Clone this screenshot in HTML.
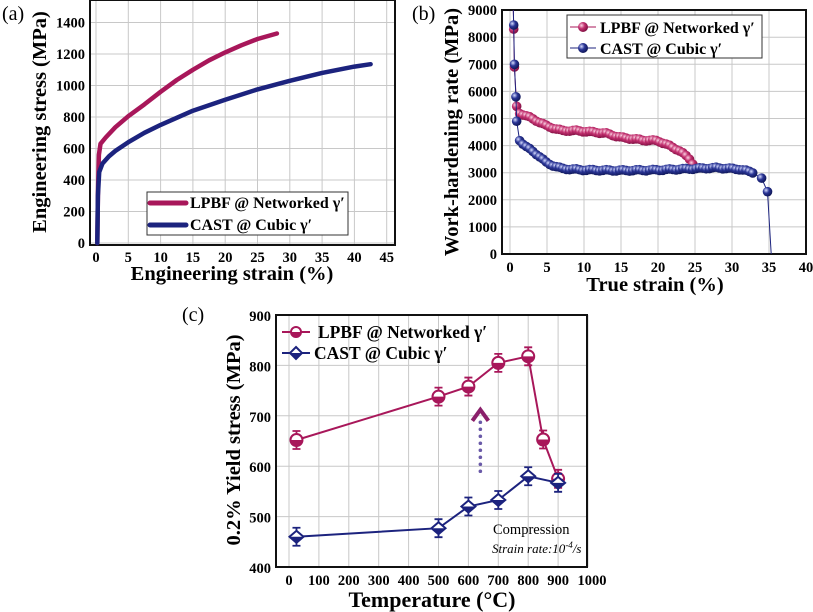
<!DOCTYPE html>
<html><head><meta charset="utf-8"><style>
body{margin:0;background:#fff;}
svg{display:block;font-family:"Liberation Serif",serif;}
.t{font-weight:bold;font-size:14.5px;}
.ti{font-weight:bold;font-size:20.5px;}
.g{stroke:#c8c8c8;stroke-width:1;}
</style></head><body>
<svg id="s" width="813" height="612" viewBox="0 0 813 612" xmlns="http://www.w3.org/2000/svg">
<defs>
<radialGradient id="gm" cx="0.35" cy="0.35" r="0.7"><stop offset="0" stop-color="#fbd3e3"/><stop offset="0.45" stop-color="#c2306f"/><stop offset="1" stop-color="#7a0c3e"/></radialGradient>
<radialGradient id="gb" cx="0.35" cy="0.35" r="0.7"><stop offset="0" stop-color="#d6dcff"/><stop offset="0.45" stop-color="#2a3596"/><stop offset="1" stop-color="#0d1452"/></radialGradient>
</defs>
<g id="a"></g><g id="b"></g><g id="c"></g>
<!-- labels a -->
<text x="2" y="20" font-size="20">(a)</text>
<text class="ti" transform="translate(46,122) rotate(-90)" text-anchor="middle">Engineering stress (MPa)</text>
<text class="ti" x="232" y="280" text-anchor="middle">Engineering strain (%)</text>
<rect x="147" y="192" width="201" height="43" fill="#fff" stroke="#333"/>
<line x1="150" y1="203" x2="186" y2="203" stroke="#a8175a" stroke-width="5" stroke-linecap="round"/>
<line x1="150" y1="225" x2="186" y2="225" stroke="#1c237e" stroke-width="5" stroke-linecap="round"/>
<text class="t" x="190" y="208" style="font-size:16px">LPBF @ Networked γ′</text>
<text class="t" x="190" y="230" style="font-size:16px">CAST @ Cubic γ′</text>
<!-- labels b -->
<text x="412" y="20" font-size="20">(b)</text>
<text class="ti" transform="translate(458,132) rotate(-90)" text-anchor="middle">Work-hardening rate (MPa)</text>
<text class="ti" x="655" y="291" text-anchor="middle">True strain (%)</text>
<rect x="567" y="15" width="195" height="43" fill="#fff" stroke="#333"/>
<line x1="570" y1="27" x2="596" y2="27" stroke="#a8175a" stroke-width="1"/>
<circle cx="583" cy="27" r="5" fill="url(#gm)"/>
<line x1="570" y1="48" x2="596" y2="48" stroke="#1c237e" stroke-width="1"/>
<circle cx="583" cy="48" r="5" fill="url(#gb)"/>
<text class="t" x="600" y="33" style="font-size:16px">LPBF @ Networked γ′</text>
<text class="t" x="600" y="54" style="font-size:16px">CAST @ Cubic γ′</text>
<!-- labels c -->
<text x="182" y="321" font-size="20">(c)</text>
<text class="ti" transform="translate(240,440) rotate(-90)" text-anchor="middle">0.2% Yield stress (MPa)</text>
<text class="ti" x="432" y="607" text-anchor="middle" style="font-size:22px">Temperature (°C)</text>
<line x1="282" y1="332" x2="310" y2="332" stroke="#a8175a" stroke-width="2"/>
<circle cx="296" cy="332" r="5" fill="#fff" stroke="#a8175a" stroke-width="2"/>
<path d="M291,332 A5,5 0 0 0 301,332Z" fill="#a8175a"/>
<line x1="282" y1="353" x2="310" y2="353" stroke="#1c237e" stroke-width="2"/>
<path d="M296,347 L302,353 L296,359 L290,353Z" fill="#fff" stroke="#1c237e" stroke-width="2"/>
<path d="M290,353 L302,353 L296,359Z" fill="#1c237e"/>
<text class="t" x="318" y="338" style="font-size:17.5px">LPBF @ Networked γ′</text>
<text class="t" x="314" y="359" style="font-size:17.5px">CAST @ Cubic γ′</text>
<text x="493" y="534" font-size="14.5">Compression</text>
<text x="492" y="553" font-size="13" font-style="italic">Strain rate:10<tspan dy="-5" font-size="9">-4</tspan><tspan dy="5">/s</tspan></text>
</svg>
<script>
var NS="http://www.w3.org/2000/svg";
function el(p,n,a){var e=document.createElementNS(NS,n);for(var k in a)e.setAttribute(k,a[k]);p.appendChild(e);return e;}
function txt(p,x,y,s,anc,cls){var e=el(p,"text",{x:x,y:y,"text-anchor":anc||"middle","class":cls||"t"});e.textContent=s;return e;}
// Panel a
(function(){var g=document.getElementById("a");
var X=function(v){return 96+v*6.46},Y=function(v){return 243-v*0.1575};
for(var v=0;v<=45;v+=5){el(g,"line",{x1:X(v),y1:0,x2:X(v),y2:245,"class":"g"});txt(g,X(v),262,v);}
for(var v=0;v<=1400;v+=200){el(g,"line",{x1:90,y1:Y(v),x2:395,y2:Y(v),"class":"g"});txt(g,85,Y(v)+5,v,"end");}
el(g,"rect",{x:90,y:0,width:305,height:245,fill:"none",stroke:"#111","stroke-width":2});
function crv(pts,c){var d="";pts.forEach(function(p,i){d+=(i?"L":"M")+X(p[0]).toFixed(1)+","+Y(p[1]).toFixed(1)});el(g,"path",{d:d,fill:"none",stroke:c,"stroke-width":4.5,"stroke-linejoin":"round","stroke-linecap":"round"});}
crv([[0.2,0],[0.3,300],[0.45,560],[0.7,630],[1.5,670],[3,735],[5,805],[7.5,880],[10,960],[12.5,1035],[15,1100],[17.5,1160],[20,1210],[22.5,1255],[25,1295],[28,1330]],"#a8175a");
crv([[0.2,0],[0.3,300],[0.5,450],[1,505],[2,550],[3,585],[5,640],[7.5,700],[10,750],[15,840],[20,910],[25,975],[30,1030],[35,1080],[40,1120],[42.5,1135]],"#1c237e");
})();
// Panel b
(function(){var g=document.getElementById("b");
var X=function(v){return 510+v*7.4},Y=function(v){return 254-v*0.0271};
for(var v=0;v<=40;v+=5){el(g,"line",{x1:X(v),y1:10,x2:X(v),y2:254,"class":"g"});txt(g,X(v),272,v);}
for(var v=0;v<=9000;v+=1000){el(g,"line",{x1:502,y1:Y(v),x2:806,y2:Y(v),"class":"g"});txt(g,497,Y(v)+5,v,"end");}
el(g,"rect",{x:502,y:10,width:304,height:244,fill:"none",stroke:"#111","stroke-width":2});
function interp(k,x){for(var i=0;i<k.length-1;i++)if(x<=k[i+1][0]){var t=(x-k[i][0])/(k[i+1][0]-k[i][0]);return k[i][1]+t*(k[i+1][1]-k[i][1]);}return k[k.length-1][1];}
function series(first,key,x0,x1,step,tail,c,gr){var pts=first.slice();for(var x=x0;x<=x1;x+=step)pts.push([x,interp(key,x)+(Math.sin(x*3)*25)]);pts=pts.concat(tail);
var d="M"+X(0.45)+","+Y(9000);pts.forEach(function(p){d+="L"+X(p[0]).toFixed(1)+","+Y(p[1]).toFixed(1)});el(g,"path",{d:d,fill:"none",stroke:c,"stroke-width":1});
pts.forEach(function(p){if(p[1]>50)el(g,"circle",{cx:X(p[0]),cy:Y(p[1]),r:4.8,fill:"url(#"+gr+")"})});}
series([[0.5,8300],[0.6,6900],[0.9,5450]],[[1.3,5200],[3,5000],[5,4720],[7,4550],[9,4550],[12,4480],[13,4450],[15,4300],[18,4200],[20,4180],[21.5,4000],[23,3800],[24.3,3500],[24.8,3300]],1.3,24.8,0.45,[],"#a8175a","gm");
series([[0.5,8450],[0.6,7000],[0.8,5800],[0.9,4900]],[[1.3,4200],[2,4000],[3,3800],[4,3600],[5,3350],[6,3250],[7,3150],[10,3100],[15,3080],[20,3100],[25,3150],[28,3180],[31,3130],[33,3000]],1.3,33,0.45,[[34,2800],[34.8,2300],[35.3,0]],"#1c237e","gb");
})();
// Panel c
(function(){var g=document.getElementById("c");
var X=function(v){return 289+v*0.299},Y=function(v){return 567-(v-400)*0.504};
for(var v=0;v<=1000;v+=100){el(g,"line",{x1:X(v),y1:315,x2:X(v),y2:567,"class":"g"});txt(g,X(v)+(v==1000?4:0),585,v,"middle","").setAttribute("font-size","17");}
for(var v=400;v<=900;v+=100){el(g,"line",{x1:276,y1:Y(v),x2:587,y2:Y(v),"class":"g"});txt(g,271,Y(v)+6,v,"end","").setAttribute("font-size","17");}
el(g,"rect",{x:276,y:315,width:311,height:252,fill:"none",stroke:"#111","stroke-width":2});
function ser(pts,c,dia){var d="";pts.forEach(function(p,i){d+=(i?"L":"M")+X(p[0]).toFixed(1)+","+Y(p[1]).toFixed(1)});el(g,"path",{d:d,fill:"none",stroke:c,"stroke-width":2});
pts.forEach(function(p){var x=X(p[0]),y=Y(p[1]);el(g,"path",{d:"M"+x+","+(y-9)+"V"+(y+9)+"M"+(x-4)+","+(y-9)+"h8M"+(x-4)+","+(y+9)+"h8",stroke:c,"stroke-width":1.8,fill:"none"});
if(dia){el(g,"path",{d:"M"+x+","+(y-6)+"L"+(x+7)+","+y+"L"+x+","+(y+6)+"L"+(x-7)+","+y+"Z",fill:"#fff",stroke:c,"stroke-width":2});el(g,"path",{d:"M"+(x-7)+","+y+"L"+(x+7)+","+y+"L"+x+","+(y+6)+"Z",fill:c});}
else{el(g,"circle",{cx:x,cy:y,r:6,fill:"#fff",stroke:c,"stroke-width":2});el(g,"path",{d:"M"+(x-6)+","+y+"A6,6 0 0 0 "+(x+6)+","+y+"Z",fill:c});}});}
ser([[25,652],[500,738],[600,758],[700,805],[800,818],[850,653],[900,575]],"#a8175a",false);
ser([[25,460],[500,477],[600,520],[700,533],[800,580],[900,567]],"#1c237e",true);
var ax=X(640);for(var y=Y(590);y>Y(695);y-=7)el(g,"circle",{cx:ax,cy:y,r:1.8,fill:"#6a5aa8"});
el(g,"path",{d:"M"+(ax-8)+","+Y(690)+"L"+ax+","+Y(712)+"L"+(ax+8)+","+Y(690),fill:"none",stroke:"#8a1f6a","stroke-width":4});
})();
</script>
</body></html>
